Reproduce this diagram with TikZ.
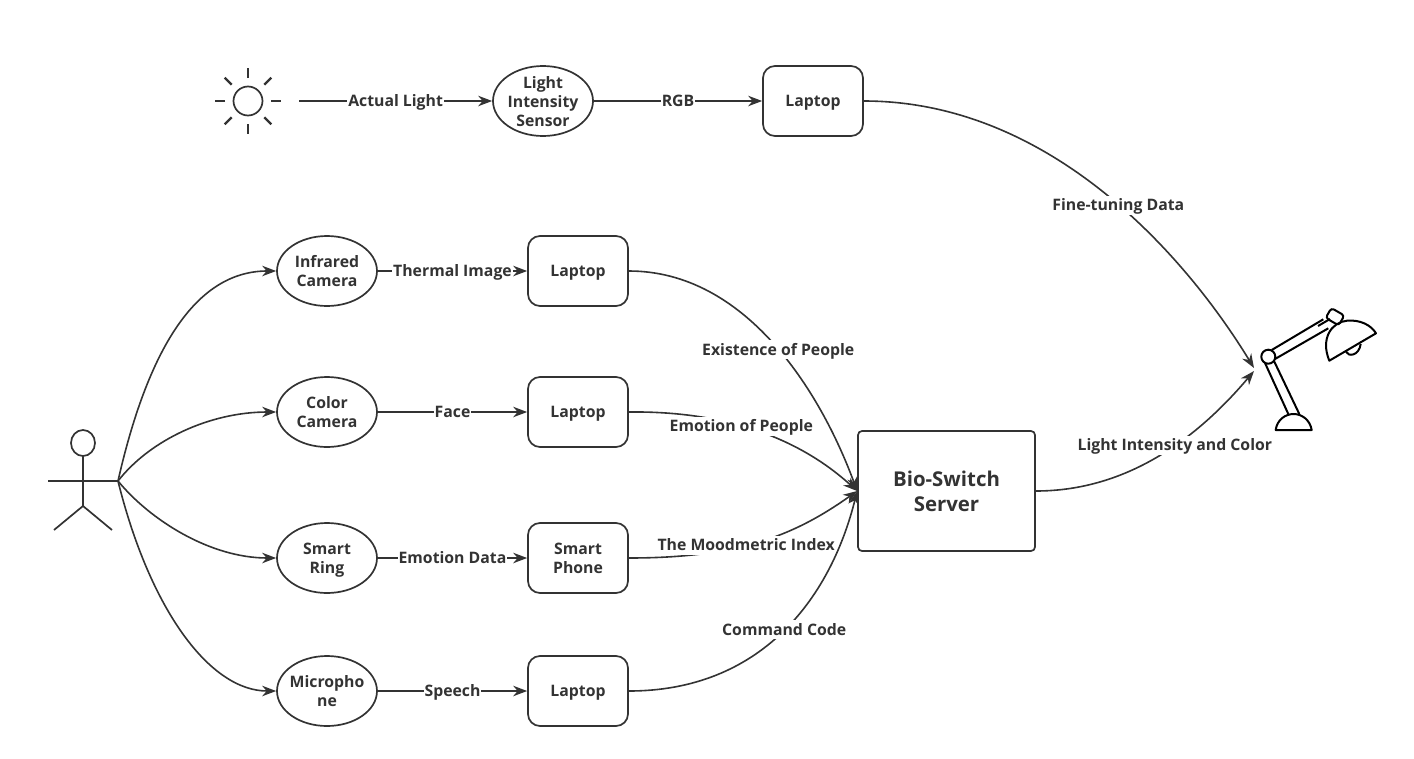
\documentclass[tikz,border=0pt]{standalone}
\usepackage{fontspec}
\setmainfont{Open Sans}
\usepackage{xcolor}
\usetikzlibrary{arrows.meta,shapes.geometric}
\definecolor{inkgray}{HTML}{333333}
\tikzset{
  devicebox/.style={draw=inkgray,line width=1.7pt,rounded corners=12pt,minimum width=100pt,minimum height=70pt,
    align=center,text=inkgray,text depth=-1pt,font=\fontsize{15.8}{19}\selectfont\bfseries},
  sensor/.style={ellipse,draw=inkgray,line width=1.7pt,minimum width=100pt,minimum height=70pt,inner sep=-8pt,
    align=center,text=inkgray,text depth=-1pt,font=\fontsize{15.8}{19}\selectfont\bfseries},
  serverbox/.style={draw=inkgray,line width=1.7pt,rounded corners=4pt,minimum width=177pt,minimum height=120pt,
    align=center,text=inkgray,font=\fontsize{20.4}{25}\selectfont\bfseries},
  flowlabel/.style={fill=white,inner sep=1pt,text=inkgray,text height=14pt,text depth=3pt,font=\fontsize{15.8}{19}\selectfont\bfseries}
}
\begin{document}
\begin{tikzpicture}[x=1pt,y=-1pt]
    \useasboundingbox (0,0) rectangle (1414,758);

    % sensors and boxes
    \node [sensor] (lightsensor) at (543,101) {Light\\Intensity\\Sensor};
    \node [sensor] (infrared) at (327,271) {Infrared\\Camera};
    \node [sensor] (color) at (327,412) {Color\\Camera};
    \node [sensor] (ring) at (327,558) {Smart\\Ring};
    \node [sensor] (micro) at (327,691) {Micropho\\ne};

    \node [devicebox] (toplaptop) at (813,101) {Laptop};
    \node [devicebox] (irlaptop) at (578,271) {Laptop};
    \node [devicebox] (colorlaptop) at (578,412) {Laptop};
    \node [devicebox] (phone) at (578,558) {Smart\\Phone};
    \node [devicebox] (miclaptop) at (578,691) {Laptop};
    \node [serverbox] (server) at (946.5,491) {Bio-Switch\\Server};

    \coordinate (sunout) at (299,101);
    \coordinate (hand) at (118,481);
    \coordinate (lampa) at (1254,368);
    \coordinate (lampb) at (1254,371);

    % sun
    \node [circle,draw=inkgray,line width=1.7pt,minimum size=29pt,inner sep=0pt] (sun) at (248,101) {};
    \foreach \ang in {0,45,...,315}
      \draw [inkgray,line width=2.2pt] (sun.center) ++(\ang:23) -- ++(\ang:10);

    % actor
    \begin{scope}[inkgray,line width=1.7pt]
      \draw (83,443) ellipse (12 and 13);
      \draw (83,456) -- (83,506);
      \draw (48,481) -- (hand);
      \draw (54,530) -- (83,506) -- (112,530);
    \end{scope}

    % lamp
    \begin{scope}[black,line width=2pt,line join=round]
      \draw (1268.3,356.7) circle (7);
      \draw (1265,363) -- (1288.3,414);
      \draw (1274,361) -- (1299.3,414);
      \draw (1275.7,430) .. controls (1277,420) and (1285,414) .. (1293.7,414) .. controls (1302,414) and (1310,420) .. (1311.7,430) -- cycle;
      \draw (1271.7,350) -- (1323.3,319.3);
      \draw (1275,359) -- (1328.3,328.3);
      \draw (1318,326) -- (1330,319);
      \draw [rotate around={-30:(1335,316.7)},rounded corners=3pt] (1327.5,311) rectangle (1342.5,322.4);
      \draw (1329.3,360.7) .. controls (1320,338) and (1332,322) .. (1347,320.7) .. controls (1360,319.5) and (1371,325) .. (1376,333.3) -- cycle;
      \draw (1346,351.7) .. controls (1348,357) and (1359,356) .. (1360.7,344);
    \end{scope}

    % straight links
    \begin{scope}[>={Stealth[length=14pt,width=10.5pt]},
        every node/.style={flowlabel},
        every edge/.style={draw=inkgray,line width=1.6pt}]
      \path [->] (sunout) edge node {Actual Light} (lightsensor);
      \path [->] (lightsensor) edge node {RGB} (toplaptop);
      \path [->] (infrared) edge node {Thermal Image} (irlaptop);
      \path [->] (color) edge node {Face} (colorlaptop);
      \path [->] (ring) edge node {Emotion Data} (phone);
      \path [->] (micro) edge node {Speech} (miclaptop);
    \end{scope}

    % curved links
    \begin{scope}[>={Stealth[length=14pt,width=10.5pt]},
        every node/.style={flowlabel},
        every path/.style={draw=inkgray,line width=1.6pt}]
      \path [->] (hand) .. controls (150,340) and (200,271) .. (infrared.west);
      \path [->] (hand) .. controls (150,440) and (210,412) .. (color.west);
      \path [->] (hand) .. controls (150,520) and (210,558) .. (ring.west);
      \path [->] (hand) .. controls (150,610) and (210,691) .. (micro.west);

      \path [->] (irlaptop.east) .. controls (745,271) and (820,390) .. node [pos=0.525] {Existence of People} (server.west);
      \path [->] (colorlaptop.east) .. controls (710,411) and (790,430) .. node [pos=0.47] {Emotion of People} (server.west);
      \path [->] (phone.east) .. controls (740,558) and (795,535) .. node [pos=0.43] {The Moodmetric Index} (server.west);
      \path [->] (miclaptop.east) .. controls (760,691) and (830,600) .. node [pos=0.51] {Command Code} (server.west);

      \path [->] (toplaptop.east) .. controls (1050,101) and (1185,255) .. node [pos=0.54] {Fine-tuning Data} (lampa);
      \path [->] (server.east) .. controls (1130,491) and (1200,435) .. node [pos=0.57] {Light Intensity and Color} (lampb);
    \end{scope}
\end{tikzpicture}
\end{document}
